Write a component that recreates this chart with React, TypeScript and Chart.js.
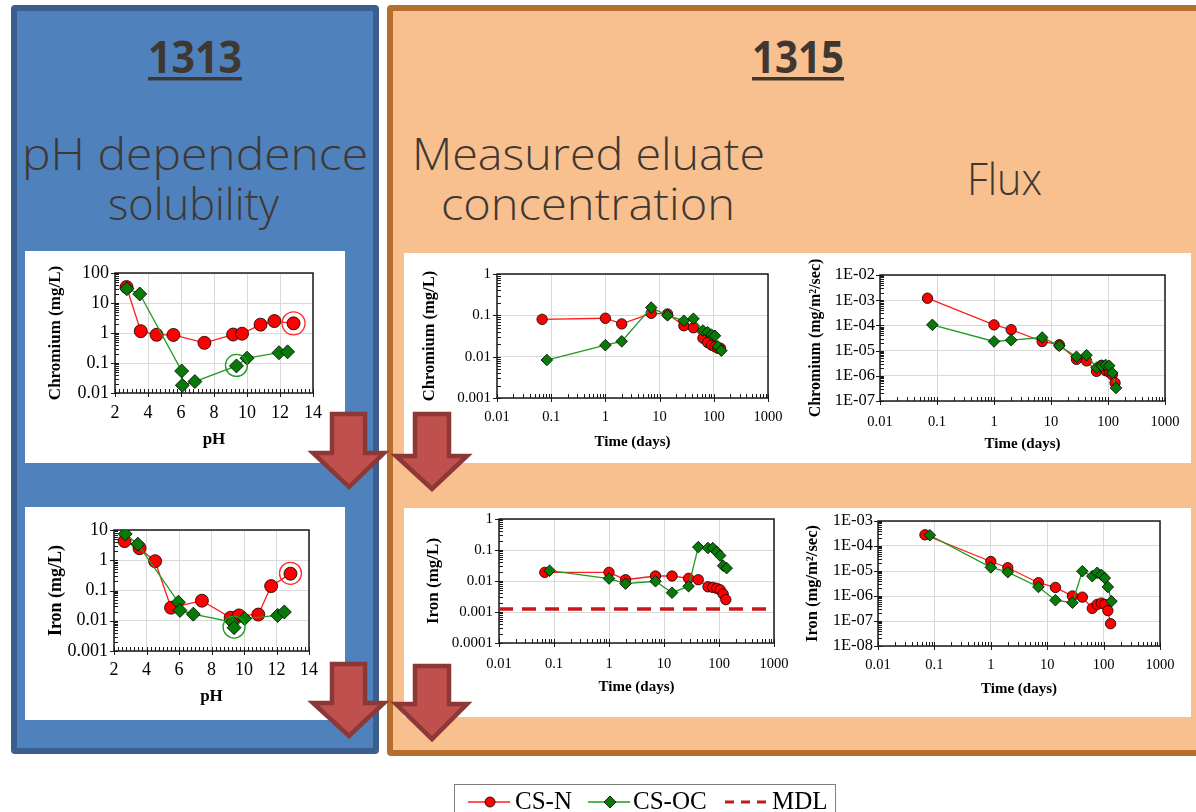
import React, { useEffect, useRef } from "react";
import { Chart, registerables } from "chart.js";

Chart.register(...registerables);

const SERIF = "'Liberation Serif', 'Times New Roman', serif";
Chart.defaults.font.family = SERIF;
Chart.defaults.color = "#000";

// ================= DATA =================
// Axis tick values
const phTicks = [2, 4, 6, 8, 10, 12, 14];
const timeTicks = [0.01, 0.1, 1, 10, 100, 1000];
const crPhTicks = [0.01, 0.1, 1, 10, 100];
const fePhTicks = [0.001, 0.01, 0.1, 1, 10];
const crConcTicks = [0.001, 0.01, 0.1, 1];
const crFluxTicks = [1e-7, 1e-6, 1e-5, 1e-4, 1e-3, 1e-2];
const feConcTicks = [0.0001, 0.001, 0.01, 0.1, 1];
const feFluxTicks = [1e-8, 1e-7, 1e-6, 1e-5, 1e-4, 1e-3];

// 1313 – Chromium vs pH
const crPhN_pH = [2.7, 3.56, 4.52, 5.54, 7.42, 9.16, 9.7, 10.82, 11.66, 12.82];
const crPhN_val = [34, 1.15, 0.87, 0.86, 0.47, 0.89, 0.95, 1.9, 2.5, 2.1];
const crPhOC_pH = [2.72, 3.5, 6.04, 6.08, 6.84, 9.36, 10.0, 11.94, 12.46];
const crPhOC_val = [30, 20, 0.054, 0.018, 0.024, 0.08, 0.145, 0.22, 0.235];
const crPhRingN = [12.82, 2.1];
const crPhRingOC = [9.36, 0.083];

// 1313 – Iron vs pH
const fePhN_pH = [2.65, 3.57, 4.53, 5.51, 7.41, 9.18, 9.69, 10.88, 11.67, 12.86];
const fePhN_val = [4.3, 2.5, 0.93, 0.027, 0.046, 0.0126, 0.015, 0.016, 0.14, 0.36];
const fePhOC_pH = [2.69, 3.47, 5.96, 6.06, 6.88, 9.27, 9.39, 10.04, 12.07, 12.48];
const fePhOC_val = [7.4, 3.4, 0.041, 0.022, 0.0165, 0.0091, 0.0059, 0.0118, 0.015, 0.0195];
const fePhRingN = [12.86, 0.37];
const fePhRingOC = [9.39, 0.0062];

// 1315 – leaching times (days)
const timeN = [0.068, 1, 2, 7, 14, 28, 42, 63, 77, 91, 105, 119, 133];
const timeOC = [0.083, 1, 2, 7, 14, 28, 42, 63, 77, 91, 105, 119, 138];

// 1315 – Chromium eluate concentration (mg/L)
const crConcN = [0.08, 0.085, 0.062, 0.112, 0.108, 0.056, 0.05, 0.028, 0.022, 0.019, 0.0175, 0.016, 0.016];
const crConcOC = [0.0083, 0.019, 0.0235, 0.154, 0.1, 0.074, 0.083, 0.043, 0.039, 0.034, 0.032, 0.0177, 0.014];

// 1315 – Chromium flux (mg/m2/sec)
const crFluxN = [1.2e-3, 1.05e-4, 6.8e-5, 2.3e-5, 1.7e-5, 4.5e-6, 3.9e-6, 1.5e-6, 2.6e-6, 1.6e-6, 1.4e-6, 1.1e-6, 5.2e-7];
const crFluxOC = [1.05e-4, 2.3e-5, 2.6e-5, 3.3e-5, 1.55e-5, 5.7e-6, 6.6e-6, 2.1e-6, 2.5e-6, 2.7e-6, 2.5e-6, 1.3e-6, 3.3e-7];

// 1315 – Iron eluate concentration (mg/L)
const feConcN = [0.019, 0.019, 0.011, 0.0145, 0.0145, 0.0122, 0.011, 0.0065, 0.0062, 0.0058, 0.0052, 0.0038, 0.0025];
const feConcOC = [0.0215, 0.012, 0.0082, 0.0098, 0.0042, 0.0068, 0.124, 0.116, 0.116, 0.087, 0.066, 0.031, 0.026];
const mdlX = [0.01, 1000];
const mdlY = [0.00126, 0.00126];

// 1315 – Iron flux (mg/m2/sec)
const feFluxN = [2.8e-4, 2.4e-5, 1.35e-5, 3.4e-6, 2.2e-6, 1.0e-6, 9e-7, 3.2e-7, 4.6e-7, 5.2e-7, 4.6e-7, 2.6e-7, 7.8e-8];
const feFluxOC = [2.7e-4, 1.4e-5, 9e-6, 2.3e-6, 6.8e-7, 5.4e-7, 9.8e-6, 6.2e-6, 8.5e-6, 7e-6, 5.2e-6, 2.3e-6, 6.2e-7];

// ================= STYLE =================
const RED = "#ff0000";
const RED_LINE = "#ff1c1c";
const GREEN_FILL = "#087a08";
const GREEN_LINE = "#1f9a1f";
const HEAD = "#3f3832";

const pts = (xs: number[], ys: number[]) => xs.map((x, i) => ({ x, y: ys[i] }));

const csN = (xs: number[], ys: number[], r: number) => ({
  label: "CS-N",
  data: pts(xs, ys),
  showLine: true,
  borderColor: RED_LINE,
  borderWidth: 1.3,
  pointStyle: "circle",
  pointRadius: r,
  pointBackgroundColor: RED,
  pointBorderColor: "#000",
  pointBorderWidth: 0.8,
  order: 2,
});
const csOC = (xs: number[], ys: number[], r: number) => ({
  label: "CS-OC",
  data: pts(xs, ys),
  showLine: true,
  borderColor: GREEN_LINE,
  borderWidth: 1.3,
  pointStyle: "rectRot",
  pointRadius: r,
  pointBackgroundColor: GREEN_FILL,
  pointBorderColor: "#000",
  pointBorderWidth: 0.8,
  order: 1,
});
const ring = (p: number[], color: string, r: number) => ({
  label: "ring",
  data: [{ x: p[0], y: p[1] }],
  showLine: false,
  pointStyle: "circle",
  pointRadius: r,
  pointBackgroundColor: "rgba(0,0,0,0)",
  pointBorderColor: color,
  pointBorderWidth: 1.3,
  order: 0,
});
const mdl = () => ({
  label: "MDL",
  data: pts(mdlX, mdlY),
  showLine: true,
  borderColor: "#c8161d",
  borderWidth: 3.5,
  borderDash: [14, 9],
  pointRadius: 0,
  order: 3,
});

const fmtPlain = (v: number) => String(v);
const fmtE = (v: number) => "1E-" + String(Math.round(-Math.log10(v))).padStart(2, "0");

type Spec = {
  x: number; y: number; w: number; h: number;
  area: [number, number, number, number];
  yTitleX: number; xTitleY: number;
  xType: "linear" | "logarithmic";
  xTicks: number[]; yTicks: number[];
  xMinorStep: number;
  yFmt: (v: number) => string;
  xFmt: (v: number) => string;
  xTickSize: number; yTickSize: number;
  yTitle: string; xTitle: string;
  yTitleSize: number; xTitleSize: number;
  xTickPad: number; yTickPad: number;
  datasets: any[];
};

function minorVals(type: string, ticks: number[], step: number) {
  const out: number[] = [];
  if (type === "logarithmic") {
    for (let i = 0; i < ticks.length - 1; i++) for (let k = 2; k <= 9; k++) out.push(ticks[i] * k);
  } else {
    const max = ticks[ticks.length - 1];
    for (let v = ticks[0]; v <= max + 1e-9; v += step) out.push(v);
  }
  return out;
}

function buildConfig(s: Spec): any {
  const [L, T, R, B] = s.area;
  const lhY = s.yTitleSize * 1.2;
  const lhX = s.xTitleSize * 1.2;
  const padLeft = s.yTitleX - lhY / 2;
  const padBottom = s.h - (s.xTitleY + lhX / 2);
  const yWidth = L - padLeft;
  const xHeight = s.xTitleY + lhX / 2 - B;

  const frame = {
    id: "frame",
    beforeDatasetsDraw(chart: any) {
      const { ctx, chartArea, scales } = chart;
      const { left, top, right, bottom } = chartArea;
      const xs = scales.x;
      const ys = scales.y;
      ctx.save();
      ctx.strokeStyle = "#1a1a1a";
      ctx.lineWidth = 1;
      ctx.beginPath();
      minorVals(s.xType, s.xTicks, s.xMinorStep).forEach((v) => {
        const p = Math.round(xs.getPixelForValue(v)) + 0.5;
        ctx.moveTo(p, bottom);
        ctx.lineTo(p, bottom - 4);
      });
      s.xTicks.forEach((v) => {
        const p = Math.round(xs.getPixelForValue(v)) + 0.5;
        ctx.moveTo(p, bottom + 4);
        ctx.lineTo(p, bottom - 4);
      });
      minorVals("logarithmic", s.yTicks, 0).forEach((v) => {
        const p = Math.round(ys.getPixelForValue(v)) + 0.5;
        ctx.moveTo(left, p);
        ctx.lineTo(left + 4, p);
      });
      s.yTicks.forEach((v) => {
        const p = Math.round(ys.getPixelForValue(v)) + 0.5;
        ctx.moveTo(left - 4, p);
        ctx.lineTo(left + 4, p);
      });
      ctx.stroke();
      ctx.lineWidth = 1.5;
      ctx.strokeRect(left, top, right - left, bottom - top);
      ctx.restore();
    },
  };

  return {
    type: "scatter",
    data: { datasets: s.datasets },
    plugins: [frame],
    options: {
      responsive: false,
      animation: false,
      devicePixelRatio: 1,
      events: [],
      layout: { padding: { left: padLeft, top: T, right: s.w - R, bottom: padBottom } },
      plugins: { legend: { display: false }, tooltip: { enabled: false } },
      scales: {
        x: {
          type: s.xType,
          min: s.xTicks[0],
          max: s.xTicks[s.xTicks.length - 1],
          afterBuildTicks: (sc: any) => {
            sc.ticks = s.xTicks.map((v) => ({ value: v }));
          },
          afterFit: (sc: any) => {
            sc.height = xHeight;
            sc.paddingLeft = 0;
            sc.paddingRight = 0;
          },
          grid: { color: "#d9d9d9", lineWidth: 1, drawTicks: false },
          border: { display: false },
          ticks: {
            autoSkip: false,
            maxRotation: 0,
            minRotation: 0,
            padding: s.xTickPad,
            color: "#000",
            font: { family: SERIF, size: s.xTickSize },
            callback: (v: any) => s.xFmt(Number(v)),
          },
          title: {
            display: true,
            text: s.xTitle,
            color: "#000",
            padding: 0,
            font: { family: SERIF, size: s.xTitleSize, weight: "bold" },
          },
        },
        y: {
          type: "logarithmic",
          min: s.yTicks[0],
          max: s.yTicks[s.yTicks.length - 1],
          afterBuildTicks: (sc: any) => {
            sc.ticks = s.yTicks.map((v) => ({ value: v }));
          },
          afterFit: (sc: any) => {
            sc.width = yWidth;
            sc.paddingTop = 0;
            sc.paddingBottom = 0;
          },
          grid: { color: "#d9d9d9", lineWidth: 1, drawTicks: false },
          border: { display: false },
          ticks: {
            autoSkip: false,
            padding: s.yTickPad,
            color: "#000",
            font: { family: SERIF, size: s.yTickSize },
            callback: (v: any) => s.yFmt(Number(v)),
          },
          title: {
            display: true,
            text: s.yTitle,
            color: "#000",
            padding: 0,
            font: { family: SERIF, size: s.yTitleSize, weight: "bold" },
          },
        },
      },
    },
  };
}

const specs: Spec[] = [
  {
    x: 25, y: 251, w: 320, h: 212, area: [90, 22, 288, 142], yTitleX: 31, xTitleY: 189,
    xType: "linear", xTicks: phTicks, yTicks: crPhTicks, xMinorStep: 0.25,
    yFmt: fmtPlain, xFmt: fmtPlain, xTickSize: 18, yTickSize: 18,
    yTitle: "Chromium (mg/L)", xTitle: "pH", yTitleSize: 17, xTitleSize: 17, xTickPad: 9, yTickPad: 6,
    datasets: [
      csN(crPhN_pH, crPhN_val, 6.5), csOC(crPhOC_pH, crPhOC_val, 7),
      ring(crPhRingN, "#ff2a2a", 11.5), ring(crPhRingOC, "#1f9a1f", 11),
    ],
  },
  {
    x: 25, y: 507, w: 320, h: 213, area: [89, 23, 284, 144], yTitleX: 31, xTitleY: 190,
    xType: "linear", xTicks: phTicks, yTicks: fePhTicks, xMinorStep: 0.25,
    yFmt: fmtPlain, xFmt: fmtPlain, xTickSize: 18, yTickSize: 18,
    yTitle: "Iron (mg/L)", xTitle: "pH", yTitleSize: 18, xTitleSize: 17, xTickPad: 8, yTickPad: 6,
    datasets: [
      csN(fePhN_pH, fePhN_val, 6.5), csOC(fePhOC_pH, fePhOC_val, 7),
      ring(fePhRingN, "#ff2a2a", 11), ring(fePhRingOC, "#1f9a1f", 11),
    ],
  },
  {
    x: 404, y: 253, w: 386, h: 210, area: [93, 21, 364, 145], yTitleX: 26, xTitleY: 189,
    xType: "logarithmic", xTicks: timeTicks, yTicks: crConcTicks, xMinorStep: 0,
    yFmt: fmtPlain, xFmt: fmtPlain, xTickSize: 14.5, yTickSize: 15,
    yTitle: "Chromium (mg/L)", xTitle: "Time (days)", yTitleSize: 16.5, xTitleSize: 15, xTickPad: 10, yTickPad: 6,
    datasets: [csN(timeN, crConcN, 5.2), csOC(timeOC, crConcOC, 5.8)],
  },
  {
    x: 790, y: 253, w: 401, h: 210, area: [90, 22, 375, 148], yTitleX: 26, xTitleY: 191,
    xType: "logarithmic", xTicks: timeTicks, yTicks: crFluxTicks, xMinorStep: 0,
    yFmt: fmtE, xFmt: fmtPlain, xTickSize: 14.5, yTickSize: 16.5,
    yTitle: "Chromium (mg/m²/sec)", xTitle: "Time (days)", yTitleSize: 16, xTitleSize: 15, xTickPad: 12, yTickPad: 5,
    datasets: [csN(timeN, crFluxN, 5.2), csOC(timeOC, crFluxOC, 5.8)],
  },
  {
    x: 404, y: 508, w: 386, h: 209, area: [95, 11, 370, 135], yTitleX: 30, xTitleY: 179,
    xType: "logarithmic", xTicks: timeTicks, yTicks: feConcTicks, xMinorStep: 0,
    yFmt: fmtPlain, xFmt: fmtPlain, xTickSize: 14.5, yTickSize: 15,
    yTitle: "Iron (mg/L)", xTitle: "Time (days)", yTitleSize: 17, xTitleSize: 15, xTickPad: 12, yTickPad: 6,
    datasets: [csN(timeN, feConcN, 5.2), csOC(timeOC, feConcOC, 5.8), mdl()],
  },
  {
    x: 790, y: 508, w: 401, h: 209, area: [88, 13, 370, 138], yTitleX: 23, xTitleY: 181,
    xType: "logarithmic", xTicks: timeTicks, yTicks: feFluxTicks, xMinorStep: 0,
    yFmt: fmtE, xFmt: fmtPlain, xTickSize: 14.5, yTickSize: 16.5,
    yTitle: "Iron (mg/m²/sec)", xTitle: "Time (days)", yTitleSize: 16.5, xTitleSize: 15, xTickPad: 10, yTickPad: 5,
    datasets: [csN(timeN, feFluxN, 5.2), csOC(timeOC, feFluxOC, 5.8)],
  },
];

function PanelChart({ spec }: { spec: Spec }) {
  const ref = useRef<HTMLCanvasElement | null>(null);
  useEffect(() => {
    if (!ref.current) return;
    const chart = new Chart(ref.current, buildConfig(spec));
    return () => chart.destroy();
  }, [spec]);
  return (
    <canvas
      ref={ref}
      width={spec.w}
      height={spec.h}
      style={{ position: "absolute", left: spec.x, top: spec.y, width: spec.w, height: spec.h, background: "#fff", zIndex: 2 }}
    />
  );
}

function Arrow({ sx1, sx2, ty, hx1, hx2, hy, tx, tipY }: any) {
  const p = [
    [sx1, ty], [sx2, ty], [sx2, hy], [hx2, hy], [tx, tipY], [hx1, hy], [sx1, hy],
  ].map((q) => q.join(",")).join(" ");
  return <polygon points={p} fill="#c0504d" stroke="#8c3836" strokeWidth={4.5} strokeLinejoin="miter" />;
}

export default function App() {
  const headFont = "'Open Sans', 'DejaVu Sans', sans-serif";
  return (
    <div style={{ position: "fixed", left: 0, top: 0, width: 1196, height: 812, overflow: "hidden", background: "#fff" }}>
      {/* panels */}
      <div style={{ position: "absolute", left: 11, top: 5, width: 368, height: 749, boxSizing: "border-box", border: "6px solid #3a5f8e", borderRadius: 4, background: "#4f81bd" }} />
      <div style={{ position: "absolute", left: 387, top: 5, width: 830, height: 751, boxSizing: "border-box", border: "6px solid #b66e2f", borderRadius: 4, background: "#f9c08f" }} />
      {/* headings */}
      <svg width={1196} height={812} style={{ position: "absolute", left: 0, top: 0, zIndex: 1 }}>
        <text x={148} y={73} fontFamily={headFont} fontWeight={700} fontSize={44} fill={HEAD} textLength={94} lengthAdjust="spacingAndGlyphs">1313</text>
        <rect x={148} y={77} width={94} height={3.5} fill={HEAD} />
        <text x={752} y={73} fontFamily={headFont} fontWeight={700} fontSize={44} fill={HEAD} textLength={92} lengthAdjust="spacingAndGlyphs">1315</text>
        <rect x={752} y={77} width={92} height={3.5} fill={HEAD} />
        <text x={22} y={170} fontFamily={headFont} fontWeight={300} fontSize={44} fill={HEAD} textLength={346} lengthAdjust="spacingAndGlyphs">pH dependence</text>
        <text x={108} y={220} fontFamily={headFont} fontWeight={300} fontSize={44} fill={HEAD} textLength={171} lengthAdjust="spacingAndGlyphs">solubility</text>
        <text x={412} y={170} fontFamily={headFont} fontWeight={300} fontSize={44} fill={HEAD} textLength={353} lengthAdjust="spacingAndGlyphs">Measured eluate</text>
        <text x={441} y={220} fontFamily={headFont} fontWeight={300} fontSize={44} fill={HEAD} textLength={294} lengthAdjust="spacingAndGlyphs">concentration</text>
        <text x={967} y={195} fontFamily={headFont} fontWeight={300} fontSize={44} fill={HEAD} textLength={75} lengthAdjust="spacingAndGlyphs">Flux</text>
      </svg>
      {specs.map((s, i) => (
        <PanelChart key={i} spec={s} />
      ))}
      {/* arrows */}
      <svg width={1196} height={812} style={{ position: "absolute", left: 0, top: 0, zIndex: 3, pointerEvents: "none" }}>
        <Arrow sx1={332} sx2={365} ty={414} hx1={313} hx2={384} hy={453} tx={349} tipY={487} />
        <Arrow sx1={415} sx2={449} ty={414} hx1={396} hx2={467} hy={456} tx={432} tipY={489} />
        <Arrow sx1={332} sx2={365} ty={664} hx1={313} hx2={384} hy={703} tx={349} tipY={736} />
        <Arrow sx1={415} sx2={449} ty={666} hx1={396} hx2={467} hy={704} tx={432} tipY={739} />
      </svg>
      {/* legend */}
      <div style={{ position: "absolute", left: 454, top: 784, width: 382, height: 40, boxSizing: "border-box", border: "1.5px solid #7f7f7f", background: "#fff", zIndex: 2 }} />
      <svg width={1196} height={812} style={{ position: "absolute", left: 0, top: 0, zIndex: 4, pointerEvents: "none" }}>
        <line x1={468} y1={802} x2={510} y2={802} stroke={RED_LINE} strokeWidth={1.5} />
        <circle cx={490} cy={802} r={5} fill={RED} stroke="#000" strokeWidth={0.8} />
        <text x={515} y={809} fontFamily={SERIF} fontSize={25} fill="#000">CS-N</text>
        <line x1={588} y1={802} x2={630} y2={802} stroke={GREEN_LINE} strokeWidth={1.5} />
        <polygon points="610,796 616,802 610,808 604,802" fill={GREEN_FILL} stroke="#000" strokeWidth={0.8} />
        <text x={633} y={809} fontFamily={SERIF} fontSize={25} fill="#000">CS-OC</text>
        <line x1={725} y1={802} x2={768} y2={802} stroke="#c8161d" strokeWidth={3} strokeDasharray="9,7" />
        <text x={772} y={809} fontFamily={SERIF} fontSize={25} fill="#000">MDL</text>
      </svg>
    </div>
  );
}
